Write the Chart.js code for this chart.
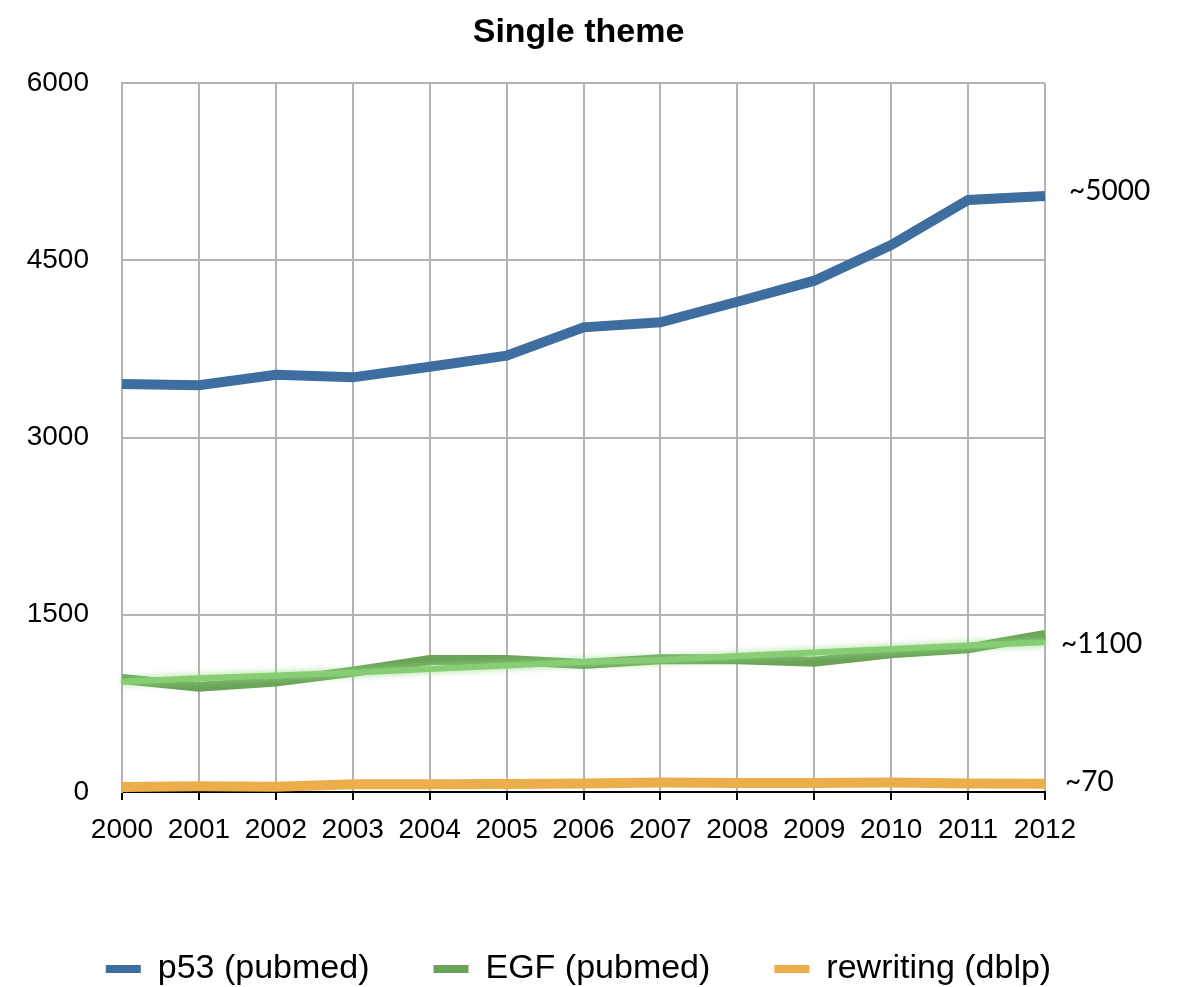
<!DOCTYPE html>
<html>
<head>
<meta charset="utf-8">
<title>Single theme</title>
<script src="https://cdn.jsdelivr.net/npm/chart.js@4/dist/chart.umd.min.js"></script>
<style>
  html, body { margin: 0; padding: 0; background: #ffffff; }
  #wrap { width: 1181px; height: 987px; }
</style>
</head>
<body>
<div id="wrap"><canvas id="chart" width="1181" height="987"></canvas></div>
<script>
// Yearly publication counts per theme
const years = ['2000', '2001', '2002', '2003', '2004', '2005', '2006',
               '2007', '2008', '2009', '2010', '2011', '2012'];
const p53Counts = [3453, 3442, 3530, 3509, 3599, 3692, 3932, 3975, 4149, 4327, 4629, 5010, 5044];
const egfCounts = [956, 891, 934, 1018, 1117, 1117, 1083, 1124, 1123, 1103, 1174, 1216, 1329];
const egfTrend = [934, 962, 985, 1010, 1040, 1070, 1100, 1117, 1150, 1180, 1210, 1240, 1268];
const rewritingCounts = [42, 48, 44, 65, 65, 68, 72, 80, 76, 76, 80, 72, 70];
const yTicks = [0, 1500, 3000, 4500, 6000];
const seriesNames = ['p53 (pubmed)', 'EGF (pubmed)', 'rewriting (dblp)'];
const endNotes = ['~5000', '~1100', '~70'];

const GRID = '#b3b3b3';
const TEXT_FONT = "'Liberation Sans', Arial, Helvetica, sans-serif";
const PAD_BOTTOM = -9;
const PAD_RIGHT = 24;
const PLOT_RIGHT = 1045;
const PLOT_BOTTOM = 792;

// Soft halo behind datasets flagged with a glow colour
const glowPlugin = {
  id: 'glow',
  beforeDatasetDraw(chart, args) {
    const ds = chart.data.datasets[args.index];
    if (ds.glow) {
      chart.ctx.save();
      chart.ctx.shadowColor = ds.glow;
      chart.ctx.shadowBlur = 7;
    }
  },
  afterDatasetDraw(chart, args) {
    if (chart.data.datasets[args.index].glow) chart.ctx.restore();
  }
};

// Approximate magnitude notes at the right end of each series
const endNotesPlugin = {
  id: 'endNotes',
  afterDraw(chart) {
    const { ctx, chartArea, scales } = chart;
    const y = scales.y;
    const notes = [
      { text: endNotes[0], value: p53Counts[p53Counts.length - 1], dx: 24, dy: -5 },
      { text: endNotes[1], value: egfTrend[egfTrend.length - 1], dx: 16, dy: 2 },
      { text: endNotes[2], value: rewritingCounts[rewritingCounts.length - 1], dx: 20, dy: -2 }
    ];
    ctx.save();
    ctx.fillStyle = '#000000';
    ctx.font = "28px Lato, 'Open Sans', sans-serif";
    ctx.textAlign = 'left';
    ctx.textBaseline = 'middle';
    notes.forEach(n => {
      ctx.fillText(n.text, chartArea.right + n.dx, y.getPixelForValue(n.value) + n.dy);
    });
    ctx.restore();
  }
};

const lineStyle = {
  fill: false,
  tension: 0,
  pointRadius: 0,
  pointHoverRadius: 0,
  borderCapStyle: 'butt',
  borderJoinStyle: 'miter'
};

new Chart(document.getElementById('chart'), {
  type: 'line',
  data: {
    labels: years,
    datasets: [
      Object.assign({ label: seriesNames[0], data: p53Counts, borderColor: '#3e6d9f', backgroundColor: '#3e6d9f', borderWidth: 10, order: 1 }, lineStyle),
      Object.assign({ label: seriesNames[1], data: egfCounts, borderColor: '#6aa357', backgroundColor: '#6aa357', borderWidth: 10, order: 2 }, lineStyle),
      Object.assign({ label: seriesNames[2], data: rewritingCounts, borderColor: '#ecae4a', backgroundColor: '#ecae4a', borderWidth: 10, order: 3 }, lineStyle),
      Object.assign({ label: 'EGF trend', data: egfTrend, borderColor: '#86cd74', backgroundColor: '#86cd74', borderWidth: 6, order: 0, glow: 'rgba(150, 215, 135, 0.9)' }, lineStyle)
    ]
  },
  options: {
    responsive: false,
    devicePixelRatio: 1,
    animation: false,
    layout: { padding: { left: 0, right: PAD_RIGHT, top: 0, bottom: PAD_BOTTOM } },
    plugins: {
      tooltip: { enabled: false },
      title: {
        display: true,
        text: 'Single theme',
        color: '#000000',
        font: { family: TEXT_FONT, size: 34, weight: 'bold', lineHeight: 1.2 },
        padding: { top: 12, bottom: 30.2 }
      },
      legend: {
        display: true,
        position: 'bottom',
        labels: {
          color: '#000000',
          font: { family: TEXT_FONT, size: 34 },
          boxWidth: 35,
          boxHeight: 8,
          padding: 64,
          generateLabels(chart) {
            const items = Chart.defaults.plugins.legend.labels.generateLabels(chart);
            return items
              .filter(it => it.datasetIndex !== 3)
              .map(it => Object.assign(it, { fillStyle: it.strokeStyle, lineWidth: 0 }));
          }
        }
      }
    },
    scales: {
      x: {
        type: 'category',
        offset: false,
        grid: { color: GRID, lineWidth: 2, tickColor: '#000000', tickLength: 8, tickWidth: 2, drawTicks: true },
        border: { display: true, color: '#000000', width: 2 },
        ticks: { color: '#000000', font: { family: TEXT_FONT, size: 28 }, padding: 13, maxRotation: 0, autoSkip: false },
        afterFit(s) {
          const legendH = s.chart.legend ? s.chart.legend.height : 0;
          s.height = 987 - PAD_BOTTOM - PLOT_BOTTOM - legendH;
        }
      },
      y: {
        min: 0,
        max: 6000,
        grid: { color: GRID, lineWidth: 2, drawTicks: false },
        border: { display: true, color: GRID, width: 2 },
        ticks: {
          color: '#000000',
          font: { family: TEXT_FONT, size: 28 },
          padding: 33,
          callback: v => String(v)
        },
        afterBuildTicks(s) { s.ticks = yTicks.map(v => ({ value: v })); },
        afterFit(s) { s.width = 122; }
      },
      yRight: {
        position: 'right',
        display: true,
        grid: { display: false, drawTicks: false },
        border: { display: false },
        ticks: { display: false },
        afterFit(s) { s.width = 1181 - PAD_RIGHT - PLOT_RIGHT; }
      }
    }
  },
  plugins: [glowPlugin, endNotesPlugin]
});
</script>
</body>
</html>
